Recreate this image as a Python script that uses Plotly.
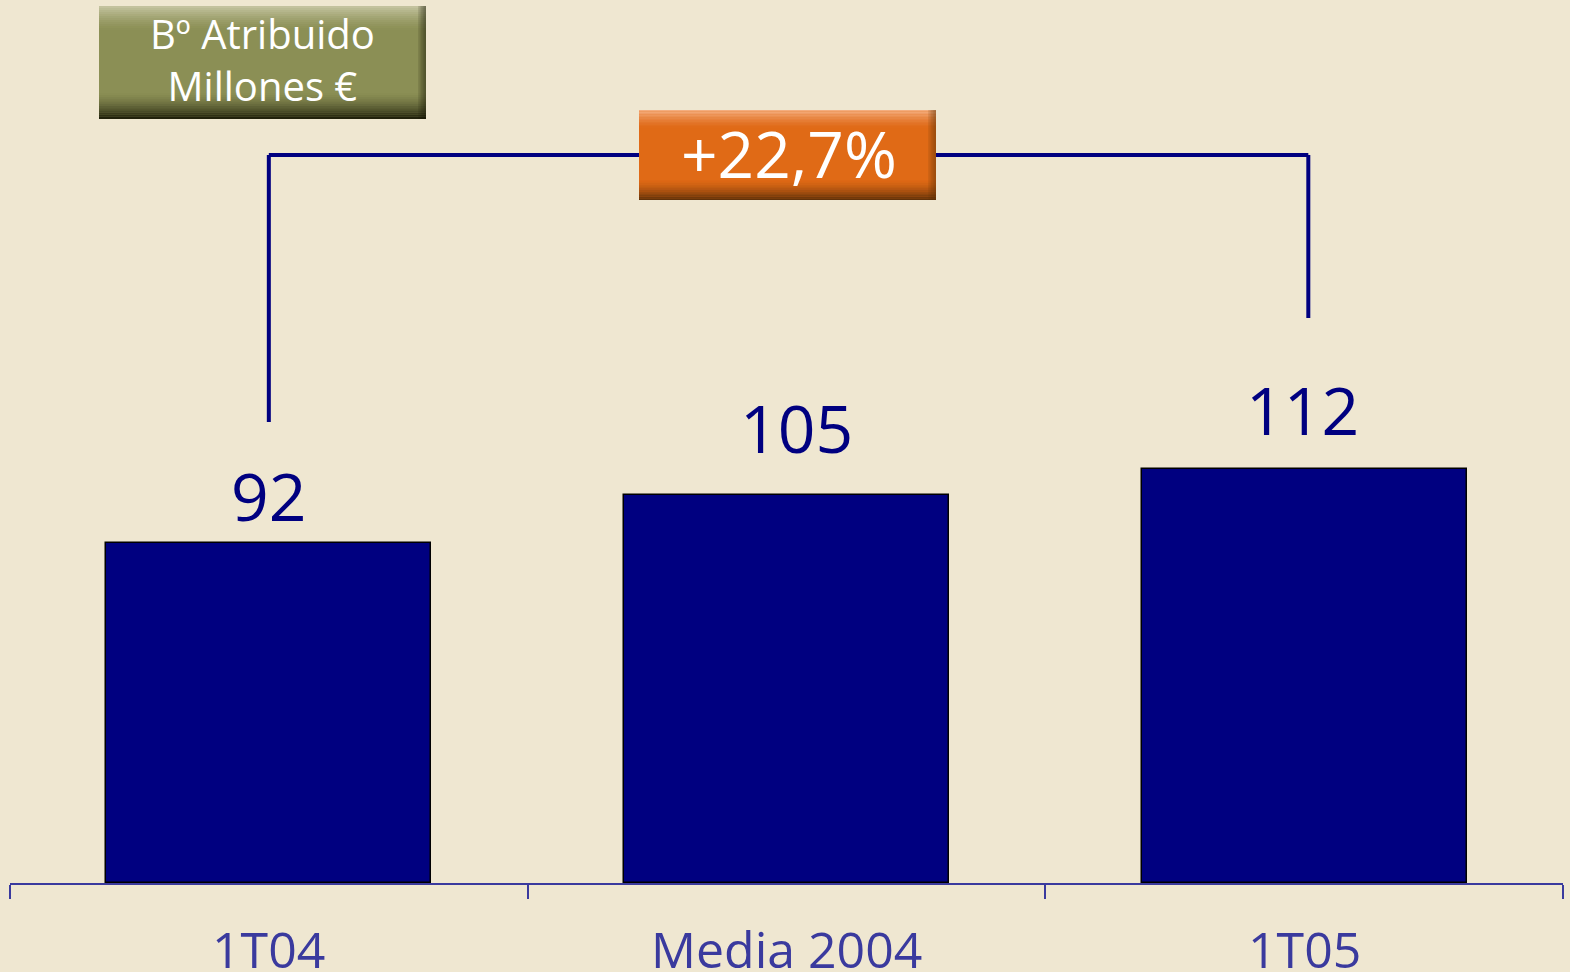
import plotly.graph_objects as go

# Net attributable profit, millions of euros
categories = ["1T04", "Media 2004", "1T05"]
values = [92, 105, 112]
growth_label = "+22,7%"
title_lines = ["Bº Atribuido", "Millones €"]

BG = "#EFE7D1"
NAVY = "#000080"
AXIS_NAVY = "#3A3A9E"
FONT = "Open Sans"

W, H = 1570, 972
ML, MR, MT, MB = 10, 7, 0, 89
PW, PH = W - ML - MR, H - MT - MB


def px_x(p):
    return (p - ML) / PW


def px_y(p):
    return 1 - (p - MT) / PH


fig = go.Figure()
fig.add_trace(go.Bar(
    x=categories, y=values, width=0.628,
    marker=dict(color=NAVY, line=dict(color="#000000", width=1.5)),
    hoverinfo="skip",
))

shapes = []

# bracket joining the first and last quarter
bracket_y = px_y(155)
shapes.append(dict(type="line", xref="x", yref="paper", x0=0, x1=0,
                   y0=px_y(422), y1=bracket_y, line=dict(color=NAVY, width=4)))
shapes.append(dict(type="line", xref="x", yref="paper", x0=0, x1=2.008,
                   y0=bracket_y, y1=bracket_y, line=dict(color=NAVY, width=4)))
shapes.append(dict(type="line", xref="x", yref="paper", x0=2.008, x1=2.008,
                   y0=bracket_y, y1=px_y(318), line=dict(color=NAVY, width=4)))


def bevel_box(x0, y0, x1, y1, base, top_col, bottom_col, top_h, bottom_h, steps=12):
    """Rectangle with a light top edge and dark bottom edge, built from strips."""
    shapes.append(dict(type="rect", xref="paper", yref="paper",
                       x0=px_x(x0), x1=px_x(x1), y0=px_y(y1), y1=px_y(y0),
                       fillcolor=base, line=dict(width=0), layer="above"))
    for i in range(steps):
        a = (1 - i / steps) ** 1.5
        ya = y0 + top_h * i / steps
        yb = y0 + top_h * (i + 1) / steps
        shapes.append(dict(type="rect", xref="paper", yref="paper",
                           x0=px_x(x0), x1=px_x(x1), y0=px_y(yb), y1=px_y(ya),
                           fillcolor=top_col, opacity=a * 0.9,
                           line=dict(width=0), layer="above"))
    for i in range(steps):
        a = ((i + 1) / steps) ** 1.6
        ya = y1 - bottom_h + bottom_h * i / steps
        yb = y1 - bottom_h + bottom_h * (i + 1) / steps
        shapes.append(dict(type="rect", xref="paper", yref="paper",
                           x0=px_x(x0), x1=px_x(x1), y0=px_y(yb), y1=px_y(ya),
                           fillcolor=bottom_col, opacity=a * 0.95,
                           line=dict(width=0), layer="above"))
    # darker right edge
    for i in range(5):
        shapes.append(dict(type="rect", xref="paper", yref="paper",
                           x0=px_x(x1 - 8 + i * 1.6), x1=px_x(x1), y0=px_y(y1), y1=px_y(y0),
                           fillcolor=bottom_col, opacity=0.12,
                           line=dict(width=0), layer="above"))


bevel_box(99, 6, 426, 119, "#8B8F55", "#C9C8A6", "#1C1C08", 24, 26)
bevel_box(639, 110, 936, 200, "#E06A16", "#F6B58A", "#5A2E08", 18, 20)

annotations = []
label_shift = [48, 68, 60]
label_dx = [0, 10, -2]
for c, v, s, dx in zip(categories, values, label_shift, label_dx):
    annotations.append(dict(x=c, y=v, xref="x", yref="y", text=str(v),
                            showarrow=False, xanchor="center", yanchor="middle",
                            yshift=s, xshift=dx,
                            font=dict(family=FONT, size=66, color=NAVY)))

for c in categories:
    annotations.append(dict(x=c, y=0, xref="x", yref="paper", text=c,
                            showarrow=False, xanchor="center", yanchor="top",
                            yshift=-30,
                            font=dict(family=FONT, size=50, color=AXIS_NAVY)))

annotations.append(dict(x=px_x(789), y=px_y(153), xref="paper", yref="paper",
                        text=growth_label, showarrow=False,
                        xanchor="center", yanchor="middle",
                        font=dict(family=FONT, size=64, color="#FFFFFF")))
annotations.append(dict(x=px_x(262), y=px_y(60), xref="paper", yref="paper",
                        text="<br>".join(title_lines), showarrow=False,
                        xanchor="center", yanchor="middle", align="center",
                        font=dict(family=FONT, size=40, color="#FFFFFF")))

fig.update_layout(
    width=W, height=H,
    margin=dict(l=ML, r=MR, t=MT, b=MB),
    paper_bgcolor=BG, plot_bgcolor=BG,
    showlegend=False,
    shapes=shapes, annotations=annotations,
    bargap=0,
    xaxis=dict(type="category", range=[-0.5, 2.5], showgrid=False,
               showline=True, linecolor=AXIS_NAVY, linewidth=2,
               ticks="outside", tickson="boundaries", ticklen=14,
               tickcolor=AXIS_NAVY, tickwidth=2, showticklabels=False,
               zeroline=False),
    yaxis=dict(range=[0, PH / 3.70], visible=False, showgrid=False, zeroline=False),
)

fig.write_html("out.html")
